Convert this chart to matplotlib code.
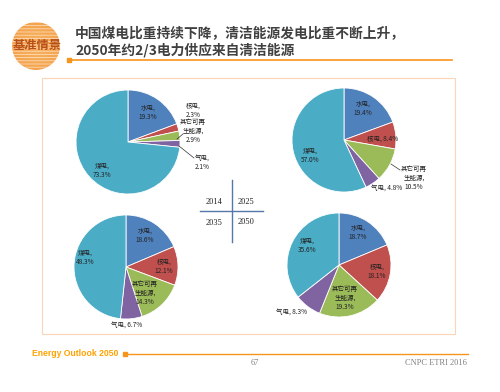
import matplotlib
matplotlib.use("Agg")
import matplotlib.pyplot as plt
from matplotlib.patches import Circle, Rectangle
import numpy as np

plt.rcParams['font.family'] = ['Noto Sans CJK SC', 'DejaVu Sans']

W, H = 500, 392

# chart data
sources = ['水电', '核电', '其它可再\n生能源', '气电', '煤电']
years = ['2014', '2025', '2035', '2050']
share_2014 = [19.3, 2.3, 2.9, 2.1, 73.3]
share_2025 = [19.4, 8.4, 10.5, 4.8, 57.0]
share_2035 = [18.6, 12.1, 14.3, 6.7, 48.3]
share_2050 = [18.7, 18.1, 19.3, 8.3, 35.6]
shares = [share_2014, share_2025, share_2035, share_2050]

colors = ['#4F81BD', '#C0504D', '#9BBB59', '#8064A2', '#4BACC6']

# layout in pixels: pie centre, radius, label spots (x, y, one-line?)
pie_pos = [(128, 142), (344, 140), (126, 267), (339, 265)]
R = 52
label_pos = [
    [(148, 112, 0), (193, 110, 0), (193, 131, 0), (202, 162, 0), (102, 170, 0)],
    [(363, 108, 0), (383, 139, 1), (414, 178, 0), (387, 188, 1), (310, 155, 0)],
    [(145, 235, 0), (164, 266, 0), (145, 293, 0), (127, 325, 1), (85, 257, 0)],
    [(358, 232, 0), (377, 271, 0), (345, 298, 0), (292, 312, 1), (307, 245, 0)],
]
leaders = [
    [((177, 139), (183, 134)), ((179, 146), (194, 158))],
    [((391, 164), (400, 170))],
    [],
    [],
]

fig = plt.figure(figsize=(W / 100, H / 100), dpi=100)
bg = fig.add_axes([0, 0, 1, 1])
bg.set_xlim(0, W)
bg.set_ylim(H, 0)
bg.axis('off')

# logo
logo = Circle((36, 46), 24, transform=bg.transData)
yy, xx = np.mgrid[0:60, 0:60]
rr = np.hypot(xx - 30, yy - 30) / 30
img = np.zeros((60, 60, 3))
base = np.array([0.97, 0.70, 0.38]) * (1 - 0.3 * rr[..., None]) + np.array([0.93, 0.50, 0.12]) * 0.3 * rr[..., None]
img[:] = base
stripes = (yy % 4 == 0)
img[stripes] = img[stripes] * 0.4 + 0.6
im = bg.imshow(img, extent=(12, 60, 70, 22), aspect='auto', zorder=1)
im.set_clip_path(logo)
bg.set_xlim(0, W)
bg.set_ylim(H, 0)
bg.text(37, 45, '基准情景', ha='center', va='center', fontsize=8.8,
        weight='bold', color='#B8501A', zorder=2)

# title
bg.text(75, 33, '中国煤电比重持续下降，清洁能源发电比重不断上升，', fontsize=9.9,
        weight='bold', color='#404040', va='center')
bg.text(75, 50, '2050年约2/3电力供应来自清洁能源', fontsize=9.9,
        weight='bold', color='#404040', va='center')
bg.plot([69, 452], [60, 60], color='#F7941D', lw=1.2)
bg.plot([69], [60], 's', ms=3, color='#F7941D')

# panel
bg.add_patch(Rectangle((42, 78), 413, 256, fill=False, edgecolor='#FBD5B5', lw=0.8))

# year cross
bg.plot([232, 232], [180, 242], color='#5577AA', lw=1.0)
bg.plot([200, 263], [211, 211], color='#5577AA', lw=1.0)
for (x, y), yr in zip([(214, 202), (246, 202), (214, 223), (246, 222)], years):
    bg.text(x, y, yr, ha='center', va='center', fontsize=6,
            family='Liberation Serif', color='#222222')

# pies
for (cx, cy), vals, labs, leads in zip(pie_pos, shares, label_pos, leaders):
    ax = fig.add_axes([(cx - R) / W, 1 - (cy + R) / H, 2 * R / W, 2 * R / H])
    ax.pie(vals, colors=colors, startangle=90, counterclock=False,
           wedgeprops=dict(edgecolor='white', linewidth=0.6))
    ax.set_xlim(-1, 1)
    ax.set_ylim(-1, 1)
    ax.set_aspect('equal')
    ax.axis('off')
    for name, v, (lx, ly, one) in zip(sources, vals, labs):
        sep = ' ' if one else '\n'
        txt = f'{name},{sep}{v:.1f}%'
        ax.text((lx - cx) / R, (cy - ly) / R, txt, ha='center', va='center',
                fontsize=4.7, color='#222222', linespacing=1.2, clip_on=False)
    for (x0, y0), (x1, y1) in leads:
        ax.plot([(x0 - cx) / R, (x1 - cx) / R], [(cy - y0) / R, (cy - y1) / R],
                color='#333333', lw=0.5, clip_on=False)

# footer
bg.text(118, 354, 'Energy Outlook 2050', ha='right', va='center', fontsize=6.2,
        weight='bold', color='#FFA200', family='Liberation Sans')
bg.plot([125, 468], [354, 354], color='#F7941D', lw=1.0)
bg.plot([125], [354], 's', ms=3, color='#F7941D')
bg.text(255, 363, '67', ha='center', va='center', fontsize=6,
        family='Liberation Serif', color='#808080')
bg.text(467, 363, 'CNPC ETRI 2016', ha='right', va='center', fontsize=6,
        family='Liberation Serif', color='#808080')

fig.savefig('out.png', dpi=100)
